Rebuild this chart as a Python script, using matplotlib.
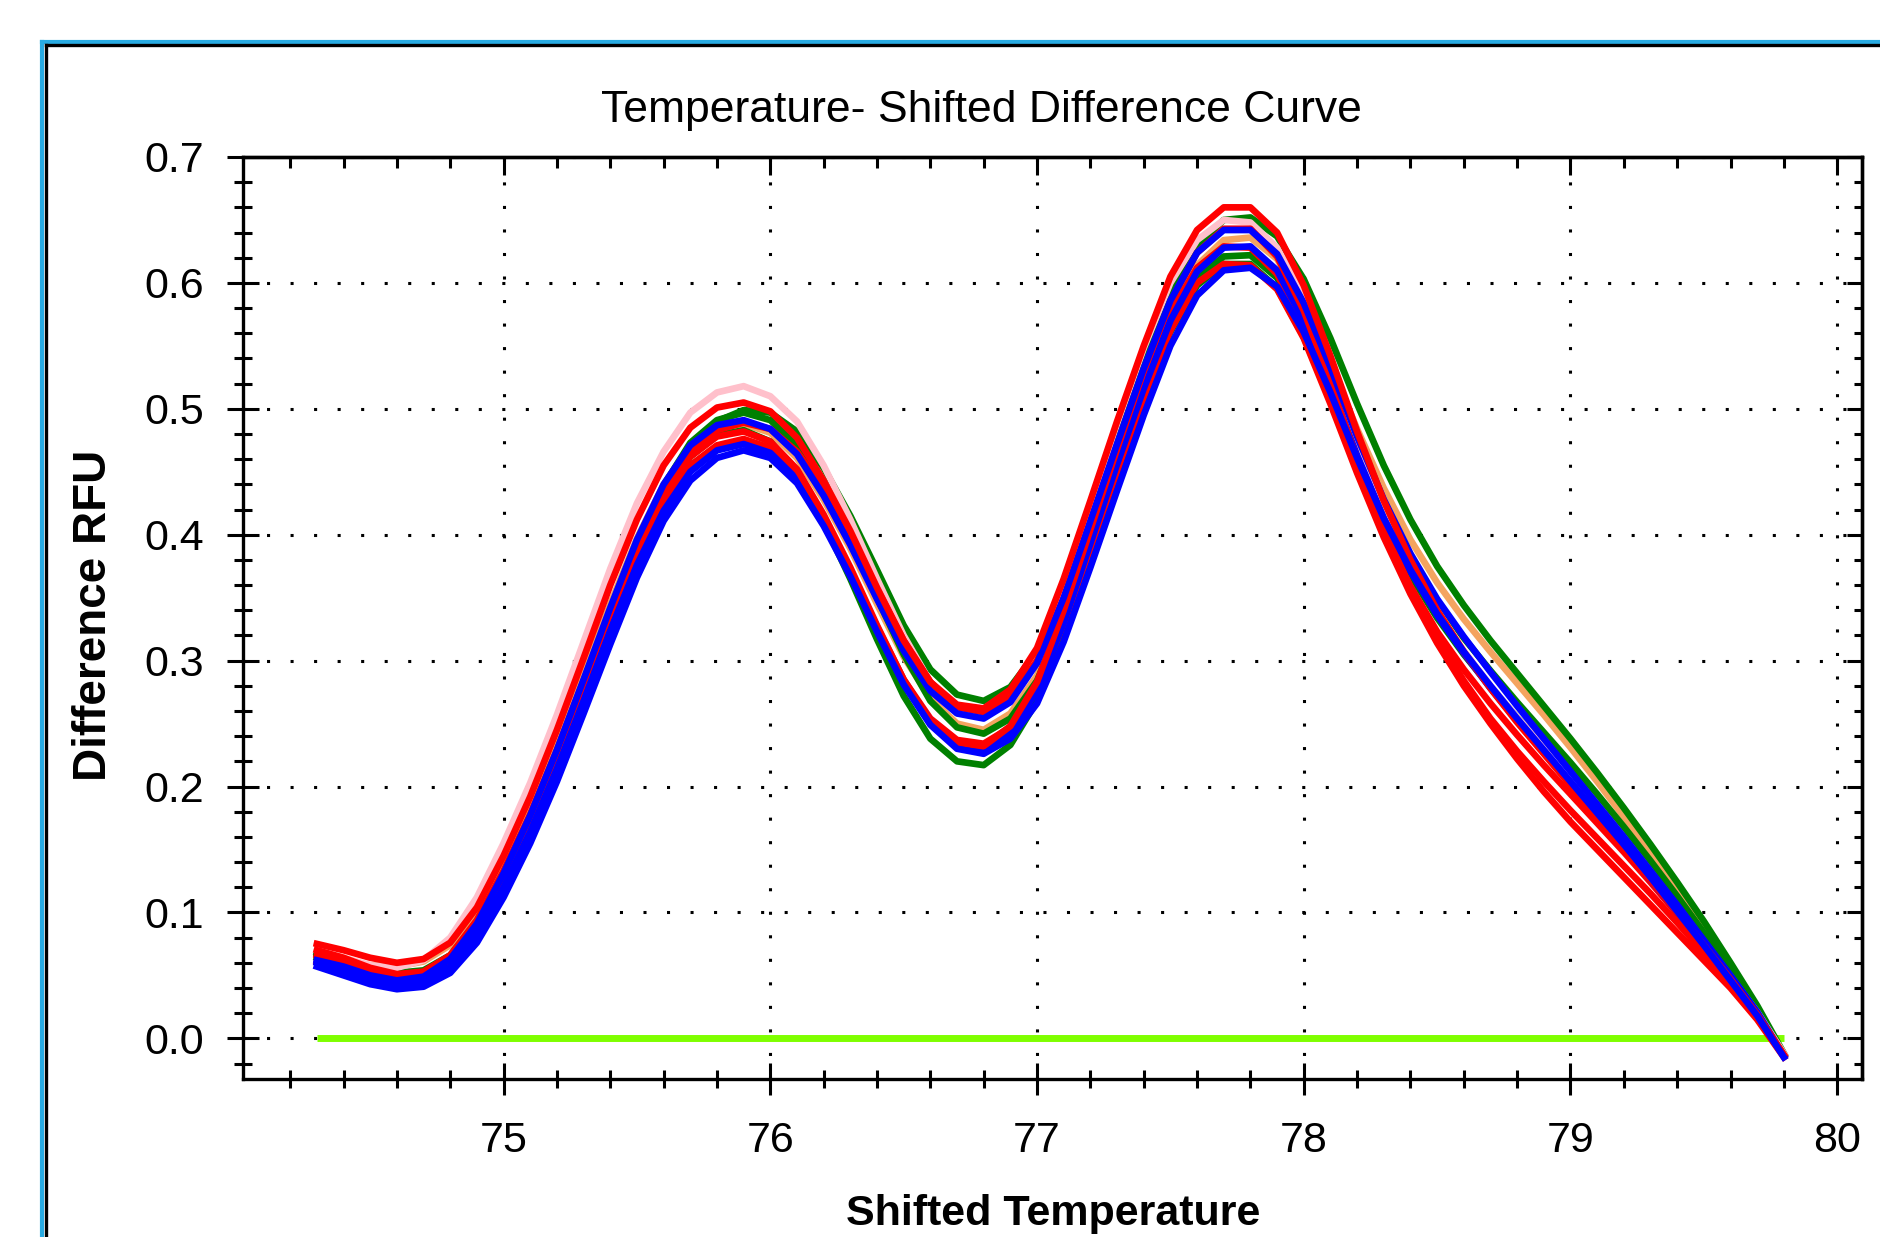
import matplotlib.pyplot as plt
from matplotlib.lines import Line2D
from matplotlib.ticker import MultipleLocator, FormatStrFormatter, NullFormatter

# shifted temperature grid (deg C)
temps = [74.3, 74.4, 74.5, 74.6, 74.7, 74.8, 74.9, 75.0, 75.1, 75.2,
         75.3, 75.4, 75.5, 75.6, 75.7, 75.8, 75.9, 76.0, 76.1, 76.2,
         76.3, 76.4, 76.5, 76.6, 76.7, 76.8, 76.9, 77.0, 77.1, 77.2,
         77.3, 77.4, 77.5, 77.6, 77.7, 77.8, 77.9, 78.0, 78.1, 78.2,
         78.3, 78.4, 78.5, 78.6, 78.7, 78.8, 78.9, 79.0, 79.1, 79.2,
         79.3, 79.4, 79.5, 79.6, 79.7, 79.8]

# difference RFU per well
white_1 = [0.072, 0.067, 0.061, 0.058, 0.062, 0.077, 0.106, 0.148, 0.195, 0.248,
           0.305, 0.363, 0.416, 0.458, 0.490, 0.507, 0.512, 0.505, 0.484, 0.449,
           0.407, 0.361, 0.317, 0.281, 0.260, 0.256, 0.270, 0.303, 0.358, 0.420,
           0.482, 0.542, 0.595, 0.631, 0.647, 0.645, 0.622, 0.578, 0.520, 0.460,
           0.405, 0.358, 0.319, 0.286, 0.257, 0.231, 0.207, 0.184, 0.162, 0.140,
           0.117, 0.093, 0.069, 0.044, 0.017, -0.014]
white_2 = [0.063, 0.057, 0.050, 0.046, 0.048, 0.061, 0.087, 0.125, 0.170, 0.221,
           0.276, 0.332, 0.384, 0.427, 0.458, 0.474, 0.479, 0.472, 0.451, 0.416,
           0.375, 0.330, 0.288, 0.257, 0.239, 0.236, 0.250, 0.282, 0.335, 0.396,
           0.458, 0.518, 0.572, 0.608, 0.625, 0.623, 0.602, 0.561, 0.508, 0.452,
           0.402, 0.358, 0.320, 0.288, 0.259, 0.233, 0.209, 0.186, 0.164, 0.142,
           0.119, 0.095, 0.070, 0.044, 0.017, -0.014]
sandy_1 = [0.066, 0.062, 0.058, 0.057, 0.061, 0.074, 0.100, 0.138, 0.183, 0.234,
           0.289, 0.345, 0.397, 0.440, 0.470, 0.485, 0.488, 0.481, 0.461, 0.428,
           0.389, 0.345, 0.303, 0.270, 0.250, 0.245, 0.258, 0.288, 0.340, 0.400,
           0.462, 0.522, 0.576, 0.614, 0.634, 0.636, 0.619, 0.583, 0.535, 0.484,
           0.437, 0.396, 0.362, 0.333, 0.307, 0.282, 0.257, 0.231, 0.204, 0.176,
           0.147, 0.117, 0.086, 0.055, 0.023, -0.012]
green_3 = [0.067, 0.062, 0.056, 0.052, 0.054, 0.066, 0.092, 0.130, 0.175, 0.226,
           0.282, 0.339, 0.393, 0.439, 0.473, 0.491, 0.497, 0.491, 0.471, 0.437,
           0.396, 0.350, 0.305, 0.268, 0.247, 0.242, 0.254, 0.284, 0.334, 0.393,
           0.454, 0.514, 0.567, 0.604, 0.621, 0.622, 0.604, 0.567, 0.519, 0.468,
           0.421, 0.381, 0.347, 0.318, 0.292, 0.267, 0.243, 0.219, 0.194, 0.168,
           0.141, 0.113, 0.084, 0.054, 0.022, -0.013]
green_2 = [0.064, 0.058, 0.050, 0.045, 0.047, 0.060, 0.087, 0.126, 0.171, 0.222,
           0.277, 0.333, 0.386, 0.430, 0.462, 0.479, 0.483, 0.474, 0.449, 0.410,
           0.365, 0.317, 0.272, 0.238, 0.220, 0.217, 0.233, 0.268, 0.323, 0.386,
           0.448, 0.508, 0.561, 0.598, 0.615, 0.615, 0.596, 0.557, 0.507, 0.455,
           0.408, 0.368, 0.334, 0.305, 0.279, 0.255, 0.231, 0.207, 0.182, 0.157,
           0.131, 0.104, 0.077, 0.049, 0.020, -0.013]
green_1 = [0.068, 0.062, 0.054, 0.049, 0.050, 0.060, 0.084, 0.122, 0.166, 0.217,
           0.273, 0.331, 0.386, 0.432, 0.468, 0.490, 0.499, 0.497, 0.482, 0.453,
           0.415, 0.372, 0.328, 0.293, 0.273, 0.268, 0.279, 0.307, 0.355, 0.413,
           0.474, 0.535, 0.590, 0.630, 0.650, 0.652, 0.637, 0.603, 0.556, 0.504,
           0.455, 0.412, 0.375, 0.344, 0.316, 0.290, 0.264, 0.238, 0.211, 0.183,
           0.154, 0.124, 0.093, 0.060, 0.026, -0.012]
pink_1 = [0.070, 0.064, 0.058, 0.056, 0.062, 0.080, 0.112, 0.155, 0.203, 0.257,
          0.315, 0.373, 0.425, 0.466, 0.497, 0.513, 0.518, 0.510, 0.490, 0.455,
          0.412, 0.365, 0.320, 0.283, 0.261, 0.256, 0.270, 0.305, 0.362, 0.425,
          0.488, 0.548, 0.600, 0.634, 0.650, 0.648, 0.628, 0.588, 0.534, 0.476,
          0.423, 0.378, 0.340, 0.308, 0.280, 0.255, 0.231, 0.207, 0.182, 0.157,
          0.131, 0.104, 0.077, 0.049, 0.021, -0.012]
blue_3 = [0.060, 0.054, 0.047, 0.043, 0.045, 0.057, 0.083, 0.120, 0.164, 0.214,
          0.268, 0.324, 0.376, 0.419, 0.450, 0.467, 0.472, 0.465, 0.444, 0.410,
          0.369, 0.325, 0.284, 0.252, 0.233, 0.229, 0.243, 0.276, 0.330, 0.393,
          0.456, 0.516, 0.570, 0.609, 0.628, 0.629, 0.610, 0.570, 0.518, 0.463,
          0.413, 0.371, 0.336, 0.306, 0.278, 0.252, 0.227, 0.202, 0.177, 0.152,
          0.126, 0.100, 0.073, 0.046, 0.018, -0.014]
red_4 = [0.066, 0.061, 0.054, 0.050, 0.052, 0.064, 0.090, 0.128, 0.172, 0.222,
         0.277, 0.333, 0.386, 0.431, 0.465, 0.483, 0.489, 0.484, 0.466, 0.436,
         0.399, 0.357, 0.316, 0.283, 0.263, 0.259, 0.271, 0.300, 0.349, 0.407,
         0.466, 0.524, 0.576, 0.612, 0.629, 0.628, 0.607, 0.565, 0.510, 0.453,
         0.402, 0.359, 0.323, 0.293, 0.266, 0.241, 0.217, 0.194, 0.171, 0.148,
         0.124, 0.099, 0.073, 0.046, 0.018, -0.014]
red_3 = [0.061, 0.055, 0.048, 0.044, 0.046, 0.058, 0.084, 0.122, 0.167, 0.218,
         0.273, 0.329, 0.381, 0.424, 0.455, 0.471, 0.476, 0.469, 0.448, 0.413,
         0.372, 0.327, 0.285, 0.254, 0.237, 0.234, 0.247, 0.278, 0.329, 0.389,
         0.450, 0.509, 0.562, 0.600, 0.615, 0.614, 0.595, 0.556, 0.504, 0.449,
         0.398, 0.353, 0.314, 0.280, 0.250, 0.222, 0.196, 0.172, 0.150, 0.128,
         0.106, 0.084, 0.062, 0.040, 0.015, -0.015]
blue_1 = [0.062, 0.057, 0.050, 0.046, 0.049, 0.063, 0.091, 0.131, 0.177, 0.229,
          0.285, 0.342, 0.396, 0.440, 0.471, 0.487, 0.491, 0.484, 0.464, 0.431,
          0.392, 0.349, 0.308, 0.276, 0.258, 0.254, 0.267, 0.298, 0.350, 0.411,
          0.472, 0.532, 0.586, 0.624, 0.642, 0.642, 0.623, 0.584, 0.533, 0.478,
          0.428, 0.385, 0.349, 0.319, 0.291, 0.264, 0.238, 0.212, 0.186, 0.160,
          0.133, 0.106, 0.078, 0.050, 0.021, -0.014]
red_2 = [0.070, 0.064, 0.056, 0.051, 0.053, 0.066, 0.094, 0.133, 0.178, 0.229,
         0.284, 0.339, 0.391, 0.433, 0.462, 0.478, 0.482, 0.474, 0.452, 0.416,
         0.374, 0.328, 0.285, 0.252, 0.235, 0.232, 0.248, 0.283, 0.340, 0.404,
         0.468, 0.530, 0.585, 0.624, 0.643, 0.643, 0.621, 0.578, 0.521, 0.460,
         0.405, 0.358, 0.318, 0.284, 0.254, 0.228, 0.204, 0.181, 0.159, 0.137,
         0.115, 0.092, 0.068, 0.043, 0.016, -0.014]
blue_2 = [0.057, 0.050, 0.043, 0.039, 0.041, 0.052, 0.076, 0.112, 0.155, 0.204,
          0.258, 0.313, 0.366, 0.411, 0.443, 0.461, 0.467, 0.461, 0.441, 0.407,
          0.367, 0.323, 0.281, 0.249, 0.230, 0.226, 0.238, 0.266, 0.315, 0.374,
          0.435, 0.495, 0.550, 0.590, 0.610, 0.612, 0.597, 0.561, 0.513, 0.461,
          0.413, 0.372, 0.337, 0.307, 0.280, 0.254, 0.229, 0.204, 0.179, 0.154,
          0.128, 0.101, 0.074, 0.046, 0.018, -0.015]
red_1 = [0.075, 0.070, 0.064, 0.060, 0.063, 0.076, 0.104, 0.145, 0.192, 0.245,
         0.302, 0.360, 0.412, 0.455, 0.485, 0.501, 0.505, 0.498, 0.477, 0.443,
         0.403, 0.358, 0.316, 0.283, 0.265, 0.262, 0.277, 0.310, 0.365, 0.427,
         0.490, 0.550, 0.605, 0.642, 0.660, 0.660, 0.640, 0.598, 0.542, 0.482,
         0.427, 0.380, 0.340, 0.307, 0.278, 0.251, 0.226, 0.201, 0.176, 0.151,
         0.126, 0.100, 0.074, 0.047, 0.019, -0.013]

# threshold line
zero_x = [74.3, 79.8]
zero_y = [0.0, 0.0]

wells = [
    (white_1, '#FFFFFF'), (white_2, '#FFFFFF'), (sandy_1, '#F4A460'),
    (green_3, '#008000'), (green_2, '#008000'), (green_1, '#008000'),
    (pink_1, '#FFC0CB'), (red_4, '#FF0000'), (red_3, '#FF0000'),
    (blue_3, '#0000FF'), (red_2, '#FF0000'), (blue_1, '#0000FF'),
    (red_1, '#FF0000'), (blue_2, '#0000FF'),
]

FONT = ['Liberation Sans', 'Arial', 'DejaVu Sans']
plt.rcParams['font.family'] = FONT

fig = plt.figure(figsize=(18.8, 12.37), dpi=100)
ax = fig.add_axes([243 / 1880, 1 - 1079 / 1237, 1619 / 1880, 922 / 1237])

# window frame of the screenshot
fig.add_artist(Line2D([42 / 1880, 42 / 1880], [-0.02, 1 - 41.5 / 1237],
                      transform=fig.transFigure, color='#29ABE2', lw=3.0))
fig.add_artist(Line2D([42 / 1880, 1.02], [1 - 41.5 / 1237, 1 - 41.5 / 1237],
                      transform=fig.transFigure, color='#29ABE2', lw=3.0))
fig.add_artist(Line2D([45.5 / 1880, 45.5 / 1880], [-0.02, 1 - 45 / 1237],
                      transform=fig.transFigure, color='black', lw=2.4))
fig.add_artist(Line2D([45.5 / 1880, 1.02], [1 - 45 / 1237, 1 - 45 / 1237],
                      transform=fig.transFigure, color='black', lw=2.4))

ax.plot(zero_x, zero_y, color='#7FFF00', lw=5, solid_capstyle='butt', zorder=2)
for vals, col in wells:
    ax.plot(temps, vals, color=col, lw=4.8, solid_joinstyle='round', zorder=3)

ax.set_xlim(74.023, 80.093)
ax.set_ylim(-0.0323, 0.70)

ax.xaxis.set_major_locator(MultipleLocator(1))
ax.xaxis.set_minor_locator(MultipleLocator(0.2))
ax.yaxis.set_major_locator(MultipleLocator(0.1))
ax.yaxis.set_minor_locator(MultipleLocator(0.02))
ax.yaxis.set_major_formatter(FormatStrFormatter('%.1f'))

ax.tick_params(which='major', direction='inout', length=23.5, width=2.2,
               labelsize=31, color='black')
ax.tick_params(axis='y', which='major', pad=16.5)
ax.tick_params(axis='x', which='major', pad=18.5)
ax.tick_params(which='minor', direction='inout', length=13, width=2.2)
ax.tick_params(top=False, right=False, which='both')

ax.grid(which='major', color='black', linestyle=(0, (1, 6.7)), linewidth=2.2)

for sp in ax.spines.values():
    sp.set_linewidth(2.4)

top = ax.secondary_xaxis('top')
top.xaxis.set_major_locator(MultipleLocator(1))
top.xaxis.set_minor_locator(MultipleLocator(0.2))
top.xaxis.set_major_formatter(NullFormatter())
top.tick_params(which='major', direction='in', length=13, width=2.2)
top.tick_params(which='minor', direction='in', length=8, width=2.2)
top.spines['top'].set_linewidth(2.4)

right = ax.secondary_yaxis('right')
right.yaxis.set_major_locator(MultipleLocator(0.1))
right.yaxis.set_minor_locator(MultipleLocator(0.02))
right.yaxis.set_major_formatter(NullFormatter())
right.tick_params(which='major', direction='in', length=11, width=2.2)
right.tick_params(which='minor', direction='in', length=6, width=2.2)
right.spines['right'].set_linewidth(2.4)

fig.text(981 / 1880, 1 - 122 / 1237, 'Temperature- Shifted Difference Curve',
         ha='center', va='baseline', fontsize=32)
fig.text(1053 / 1880, 1 - 1225 / 1237, 'Shifted Temperature',
         ha='center', va='baseline', fontsize=31, fontweight='bold')
fig.text(94 / 1880, 1 - 615 / 1237, 'Difference RFU', rotation=90,
         ha='center', va='center', fontsize=33, fontweight='bold')

fig.savefig('out.png', dpi=100)
